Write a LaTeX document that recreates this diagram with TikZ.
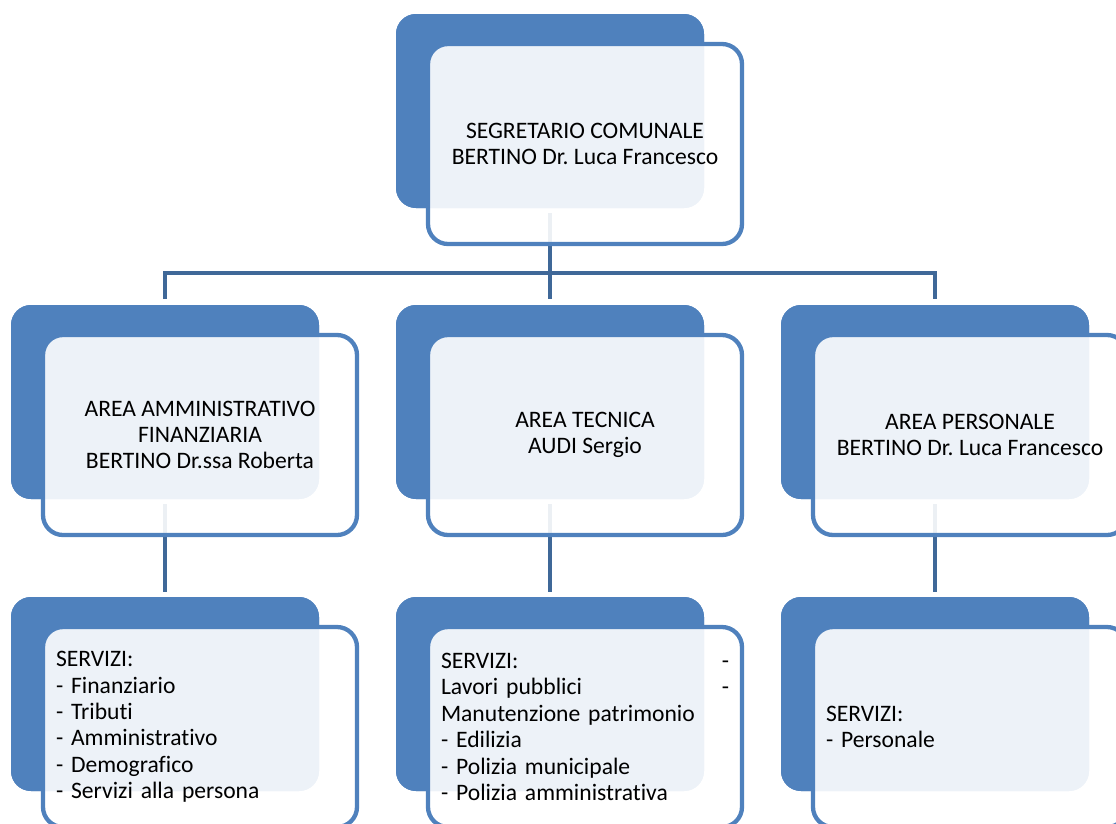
\documentclass[tikz,border=0pt]{standalone}
\usepackage{fontspec}
\setmainfont{Carlito}[Ligatures=NoCommon]
\definecolor{accent}{HTML}{4F81BD}
\definecolor{connc}{HTML}{3F6898}
\begin{document}
\frenchspacing
\begin{tikzpicture}[x=1pt,y=-1pt,
  every node/.style={inner sep=0pt,outer sep=0pt},
  back/.style={rectangle,rounded corners=20pt,fill=accent,minimum width=308pt,minimum height=194pt},
  front/.style={rectangle,rounded corners=20pt,draw=accent,line width=4.3pt,fill=white,fill opacity=0.9,text opacity=1,
     minimum width=314pt,minimum height=200pt,font=\fontsize{23.6}{26.4}\selectfont\frenchspacing,text=black},
  ctr/.style={front,align=center},
  lst/.style={front,align=left,text width=288pt},
  conn/.style={draw=connc,line width=4.6pt}]
\useasboundingbox (0,0) rectangle (1116,823);
\clip (0,0) rectangle (1116,823);
% back boxes (positions)
\node[back] (bT) at (550,111) {};
\node[back] (bA) at (165,402) {};
\node[back] (bB) at (550,402) {};
\node[back] (bC) at (935,402) {};
\node[back] (bD) at (165,694) {};
\node[back] (bE) at (550,694) {};
\node[back] (bF) at (935,694) {};
\coordinate (bar) at (550,273);
% connectors
\draw[conn] ([yshift=-5pt]bT.south) -- (bar);
\draw[conn] ([yshift=6pt]bA.north) |- (bar) -| ([yshift=6pt]bC.north);
\draw[conn] (bar) -- ([yshift=6pt]bB.north);
\draw[conn] ([yshift=-5pt]bA.south) -- ([yshift=5pt]bD.north);
\draw[conn] ([yshift=-5pt]bB.south) -- ([yshift=5pt]bE.north);
\draw[conn] ([yshift=-5pt]bC.south) -- ([yshift=5pt]bF.north);
% redraw back boxes over connectors
\node[back] at (bT) {};
\node[back] at (bA) {};
\node[back] at (bB) {};
\node[back] at (bC) {};
\node[back] at (bD) {};
\node[back] at (bE) {};
\node[back] at (bF) {};
% front boxes with text
\node[ctr] (fT) at (585,144) {SEGRETARIO COMUNALE\\BERTINO Dr. Luca Francesco};
\node[ctr] (fA) at (200,435) {AREA AMMINISTRATIVO\\FINANZIARIA\\BERTINO Dr.ssa Roberta};
\node[ctr] (fB) at (585,435) {AREA TECNICA\\AUDI Sergio};
\node[ctr] (fC) at (970,435) {AREA PERSONALE\\BERTINO Dr. Luca Francesco};
\node[lst] (fD) at (200,727) {SERVIZI:\\- Finanziario\\- Tributi\\- Amministrativo\\- Demografico\\- Servizi alla persona};
\node[lst] (fE) at (585,727) {SERVIZI:\hfill -\\Lavori pubblici\hfill -\\Manutenzione patrimonio\\- Edilizia\\- Polizia municipale\\- Polizia amministrativa};
\node[lst] (fF) at (970,727) {SERVIZI:\\- Personale};
\end{tikzpicture}
\end{document}
